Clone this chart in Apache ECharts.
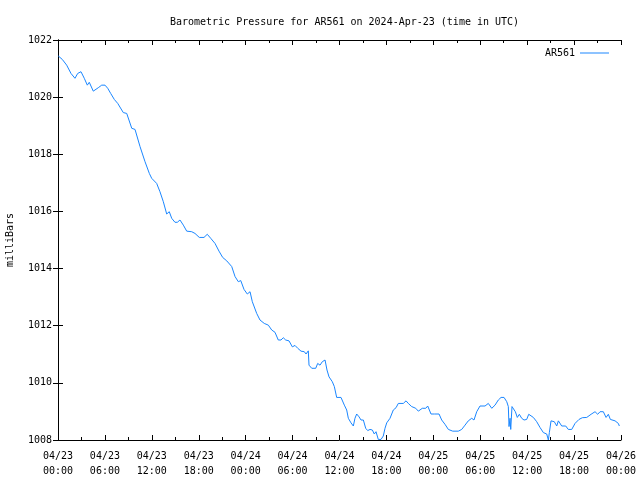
<!DOCTYPE html>
<html>
<head>
<meta charset="utf-8">
<script src="https://cdn.jsdelivr.net/npm/echarts@6/dist/echarts.min.js"></script>
<style>html,body{margin:0;padding:0;background:#fff}#c{width:640px;height:480px}</style>
</head>
<body>
<div id="c"></div>
<script>
// hours since 2024-04-23 00:00 UTC
const hours = [0.04,0.55,1.11,1.66,2.17,2.52,2.94,3.36,3.75,4.00,4.51,5.15,5.59,6.01,6.36,6.74,7.20,7.64,8.35,8.79,9.43,9.85,10.49,11.13,11.68,11.98,12.19,12.62,13.04,13.47,13.90,14.23,14.54,14.96,15.26,15.60,16.03,16.46,17.10,17.52,18.07,18.67,19.09,19.53,20.08,20.59,21.06,21.58,22.22,22.64,23.06,23.37,23.79,24.21,24.56,24.85,25.41,25.83,26.38,26.90,27.33,27.75,28.17,28.52,28.81,29.12,29.54,29.97,30.31,30.66,31.08,31.50,31.72,32.01,32.10,32.45,32.96,33.21,33.51,33.80,34.15,34.40,34.66,35.08,35.34,35.64,36.19,36.62,36.92,37.13,37.47,37.77,37.98,38.20,38.50,38.75,39.05,39.35,39.61,39.90,40.20,40.45,40.67,40.96,41.31,41.60,41.82,42.04,42.46,42.88,43.23,43.52,44.16,44.51,44.80,45.23,45.75,46.08,46.59,47.03,47.28,47.70,48.13,48.73,49.07,49.49,49.92,50.48,51.20,51.63,52.05,52.47,52.91,53.20,53.55,53.97,54.61,55.03,55.47,55.89,56.31,56.66,57.04,57.39,57.59,57.68,57.81,57.90,58.06,58.23,58.49,58.74,59.00,59.30,59.60,59.94,60.20,60.79,61.22,61.64,62.07,62.50,62.71,62.84,63.05,63.47,63.78,63.99,64.42,64.93,65.26,65.70,66.12,66.63,67.05,67.62,68.17,68.68,69.02,69.32,69.74,70.09,70.38,70.64,70.89,71.24,71.66,71.79];
const pressure = [1021.44,1021.32,1021.12,1020.83,1020.66,1020.83,1020.89,1020.66,1020.42,1020.52,1020.21,1020.33,1020.42,1020.42,1020.31,1020.13,1019.92,1019.78,1019.46,1019.43,1018.91,1018.87,1018.27,1017.74,1017.33,1017.16,1017.12,1016.98,1016.69,1016.34,1015.91,1015.99,1015.76,1015.62,1015.62,1015.70,1015.52,1015.31,1015.29,1015.23,1015.09,1015.09,1015.20,1015.06,1014.88,1014.61,1014.39,1014.27,1014.07,1013.72,1013.54,1013.58,1013.27,1013.11,1013.19,1012.84,1012.43,1012.20,1012.08,1012.02,1011.85,1011.77,1011.50,1011.50,1011.58,1011.50,1011.47,1011.26,1011.31,1011.21,1011.11,1011.09,1011.01,1011.12,1010.62,1010.51,1010.51,1010.68,1010.62,1010.74,1010.80,1010.45,1010.21,1010.04,1009.87,1009.49,1009.49,1009.22,1009.05,1008.76,1008.60,1008.49,1008.76,1008.91,1008.81,1008.70,1008.70,1008.41,1008.33,1008.37,1008.35,1008.21,1008.29,1008.02,1008.02,1008.14,1008.41,1008.60,1008.76,1009.05,1009.13,1009.28,1009.28,1009.37,1009.28,1009.17,1009.11,1009.01,1009.11,1009.11,1009.19,1008.91,1008.91,1008.91,1008.70,1008.55,1008.37,1008.31,1008.31,1008.37,1008.52,1008.67,1008.76,1008.70,1008.99,1009.19,1009.19,1009.28,1009.11,1009.22,1009.40,1009.49,1009.49,1009.34,1009.17,1008.47,1008.76,1008.37,1009.17,1009.17,1008.99,1008.79,1008.90,1008.76,1008.70,1008.72,1008.90,1008.79,1008.64,1008.44,1008.26,1008.21,1008.00,1008.26,1008.67,1008.64,1008.49,1008.67,1008.49,1008.49,1008.37,1008.37,1008.58,1008.72,1008.78,1008.79,1008.90,1008.99,1008.90,1008.99,1008.99,1008.79,1008.90,1008.72,1008.79,1008.67,1008.58,1008.49];
const dayLabels = ['04/23','04/24','04/25','04/26'];
const seriesName = 'AR561';
const titleText = 'Barometric Pressure for AR561 on 2024-Apr-23 (time in UTC)';
const yName = 'milliBars';

const FONT = 'DejaVu Sans Mono';
const data = hours.map((h, i) => [h, pressure[i]]);
const fmtX = v => {
  const d = Math.floor(v / 24), hh = v % 24;
  return dayLabels[d] + '\n' + (hh < 10 ? '0' : '') + hh + ':00';
};
const axisLine = {show: true, lineStyle: {color: '#000', width: 1}};
const chart = echarts.init(document.getElementById('c'), null, {renderer: 'canvas'});
chart.setOption({
  animation: false,
  backgroundColor: '#fff',
  title: {text: titleText, left: 339.5, textAlign: 'center', top: 12,
    textStyle: {fontFamily: FONT, fontSize: 10, fontWeight: 'normal', color: '#000'}},
  legend: {data: [{name: seriesName, icon: 'rect'}], right: 26, top: 43, align: 'right',
    itemWidth: 29, itemHeight: 1, itemGap: 5,
    textStyle: {fontFamily: FONT, fontSize: 10, color: '#000', padding: [0, 0, 0, 0]}},
  grid: {left: 58, right: 19, top: 40, bottom: 40, containLabel: false, outerBoundsMode: 'none'},
  xAxis: [
    {type: 'value', min: 0, max: 72, interval: 6, position: 'bottom',
      axisLine, splitLine: {show: false},
      axisTick: {show: true, inside: true, length: 5, lineStyle: {color: '#000'}},
      minorTick: {show: true, splitNumber: 2, length: 3, lineStyle: {color: '#000'}},
      axisLabel: {formatter: fmtX, fontFamily: FONT, fontSize: 10, color: '#000', margin: 9, lineHeight: 15}},
    {type: 'value', min: 0, max: 72, interval: 6, position: 'top',
      axisLine, splitLine: {show: false},
      axisTick: {show: true, inside: true, length: 5, lineStyle: {color: '#000'}},
      minorTick: {show: true, splitNumber: 2, length: 3, lineStyle: {color: '#000'}},
      axisLabel: {show: false}}
  ],
  yAxis: [
    {type: 'value', min: 1008, max: 1022, interval: 2, position: 'left',
      name: yName, nameLocation: 'middle', nameGap: 43,
      nameTextStyle: {fontFamily: FONT, fontSize: 10, color: '#000'},
      axisLine, splitLine: {show: false},
      axisTick: {show: true, inside: true, length: 5, lineStyle: {color: '#000'}},
      axisLabel: {formatter: v => String(v), fontFamily: FONT, fontSize: 10, color: '#000', margin: 6}},
    {type: 'value', min: 1008, max: 1022, interval: 2, position: 'right',
      axisLine, splitLine: {show: false},
      axisTick: {show: true, inside: true, length: 5, lineStyle: {color: '#000'}},
      axisLabel: {show: false}}
  ],
  series: [{name: seriesName, type: 'line', data, showSymbol: false, symbol: 'none',
    xAxisIndex: 0, yAxisIndex: 0,
    lineStyle: {color: '#1a86ff', width: 1}, itemStyle: {color: '#1a86ff'}}]
});
</script>
</body>
</html>
